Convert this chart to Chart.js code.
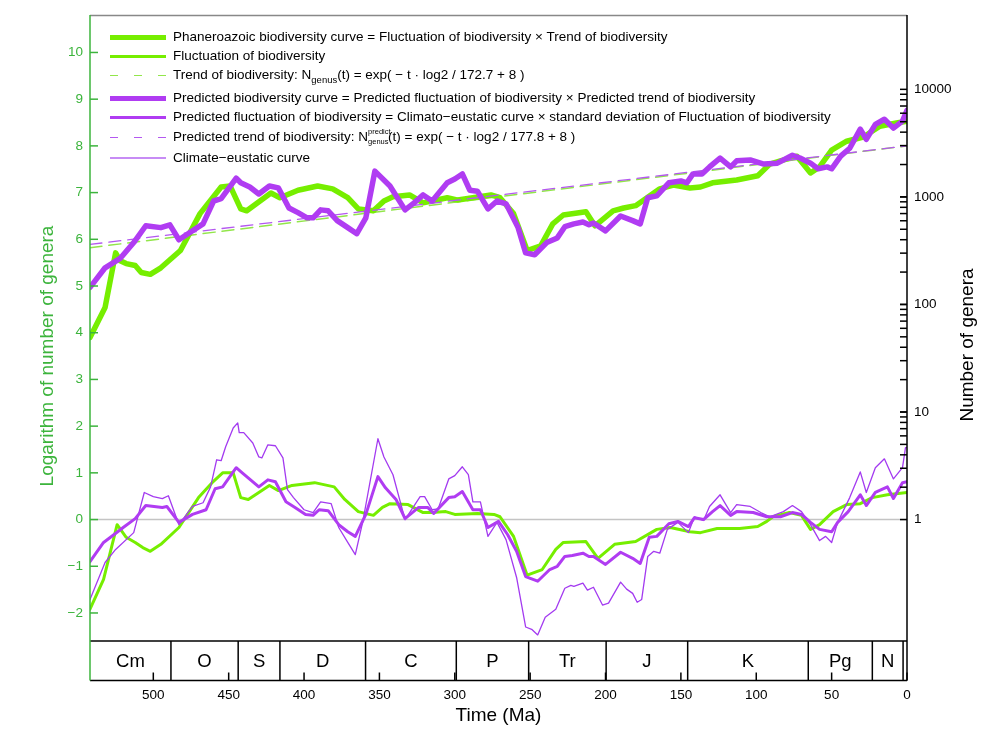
<!DOCTYPE html>
<html>
<head>
<meta charset="utf-8">
<script src="https://cdn.jsdelivr.net/npm/chart.js@4.4.1/dist/chart.umd.min.js"></script>
<style>
  body { margin: 0; background: #fff; }
  #wrap { position: relative; width: 997px; height: 749px; }
  #legend { position: absolute; left: 110px; top: 27px; font: 13.5px "Liberation Sans", Arial, sans-serif; color: #000; }
  #legend .row { line-height: 19px; white-space: nowrap; }
  #legend .row.sub { margin-bottom: 4px; }
  #legend .row.stack { margin-top: 1px; margin-bottom: 2px; }
  #legend .sample { display: inline-block; width: 56px; margin-right: 7px; vertical-align: middle; }
  #legend sub { font-size: 9.5px; vertical-align: -4px; line-height: 0; }
  #legend .ss { position: relative; display: inline-block; width: 20px; height: 1px; }
  #legend .ss i { position: absolute; left: 0; font-style: normal; font-size: 7.5px; line-height: 1; }
  #legend .ss .up { bottom: 6px; }
  #legend .ss .dn { top: -2px; }
</style>
</head>
<body>
<div id="wrap">
  <canvas id="chart"></canvas>
  <div id="legend"></div>
</div>
<script>
// ages in Ma, values in ln(number of genera)
const phanAge = [542, 532, 525, 522, 518, 512, 508, 502, 495, 482, 469, 455, 449, 442, 438, 422, 416, 404, 391, 381, 371, 364, 354, 347, 341, 330, 321, 305, 298, 276, 270, 261, 252, 243, 235, 228, 213, 207, 195, 188, 180, 164, 155, 144, 137, 129, 113, 99, 91, 84, 73, 64, 58, 50, 40, 29, 18, 7, 0]
const phanVal = [3.90, 4.54, 5.71, 5.54, 5.48, 5.44, 5.29, 5.25, 5.39, 5.76, 6.55, 7.12, 7.14, 6.65, 6.61, 6.99, 6.89, 7.05, 7.14, 7.08, 6.89, 6.65, 6.61, 6.82, 6.91, 6.95, 6.78, 6.89, 6.84, 6.95, 6.89, 6.55, 5.76, 5.86, 6.33, 6.52, 6.59, 6.29, 6.61, 6.67, 6.72, 7.08, 7.16, 7.10, 7.12, 7.21, 7.27, 7.36, 7.61, 7.68, 7.78, 7.42, 7.55, 7.91, 8.10, 8.19, 8.42, 8.49, 8.53]

const fluctAge = [542, 533, 524, 518, 512, 507, 502, 495, 483, 470, 461, 454, 447, 442, 437, 423, 417, 408, 393, 380, 373, 364, 354, 348, 343, 331, 321, 315, 306, 300, 285, 274, 270, 261, 252, 242, 233, 228, 213, 205, 194, 180, 166, 157, 144, 137, 126, 111, 99, 93, 89, 78, 70, 64, 58, 49, 40, 31, 23, 13, 0]
const fluctVal = [-1.92, -1.28, -0.11, -0.38, -0.49, -0.60, -0.68, -0.53, -0.17, 0.47, 0.79, 1.00, 1.00, 0.47, 0.43, 0.73, 0.62, 0.73, 0.79, 0.70, 0.43, 0.17, 0.09, 0.26, 0.34, 0.32, 0.15, 0.15, 0.17, 0.11, 0.13, 0.11, 0.06, -0.36, -1.19, -1.07, -0.64, -0.49, -0.47, -0.83, -0.53, -0.47, -0.21, -0.17, -0.26, -0.28, -0.19, -0.19, -0.15, -0.04, 0.06, 0.15, 0.09, -0.21, -0.11, 0.17, 0.32, 0.34, 0.47, 0.53, 0.58]

const trendAge = [542, 0]
const trendVal = [5.82, 8.0]

const predAge = [542, 532, 522, 513, 505, 495, 489, 483, 477, 467, 460, 455, 445, 442, 436, 430, 423, 417, 410, 404, 398, 394, 389, 384, 378, 371, 365, 359, 353, 343, 333, 327, 321, 315, 305, 300, 295, 290, 285, 278, 272, 266, 258, 253, 247, 239, 232, 227, 221, 215, 211, 208, 200, 190, 182, 177, 172, 166, 158, 150, 146, 142, 136, 131, 124, 117, 113, 104, 95, 86, 76, 71, 64, 59, 53, 50, 44, 38, 31, 27, 21, 15, 9, 3, 0]
const predVal = [4.97, 5.39, 5.59, 5.93, 6.29, 6.25, 6.31, 5.99, 6.12, 6.33, 6.82, 6.87, 7.31, 7.21, 7.12, 6.97, 7.14, 7.10, 6.67, 6.57, 6.46, 6.46, 6.63, 6.61, 6.40, 6.25, 6.12, 6.46, 7.46, 7.14, 6.63, 6.78, 6.95, 6.82, 7.21, 7.29, 7.40, 7.05, 7.03, 6.65, 6.82, 6.76, 6.25, 5.71, 5.67, 5.93, 6.03, 6.27, 6.33, 6.37, 6.31, 6.35, 6.18, 6.50, 6.40, 6.33, 6.89, 6.93, 7.21, 7.25, 7.21, 7.40, 7.40, 7.55, 7.74, 7.55, 7.68, 7.70, 7.61, 7.63, 7.80, 7.74, 7.63, 7.51, 7.55, 7.51, 7.78, 7.95, 8.36, 8.14, 8.46, 8.57, 8.38, 8.53, 8.76]

const predFluctAge = [542, 533, 526, 520, 512, 505, 494, 491, 483, 474, 465, 459, 454, 445, 441, 430, 424, 419, 412, 406, 399, 394, 390, 384, 377, 371, 366, 359, 351, 346, 339, 333, 324, 318, 314, 304, 300, 295, 288, 283, 278, 271, 265, 259, 253, 245, 237, 232, 227, 222, 215, 211, 208, 200, 190, 182, 177, 171, 166, 158, 152, 145, 141, 135, 129, 124, 117, 113, 102, 93, 84, 76, 70, 64, 58, 50, 46, 39, 31, 27, 21, 13, 9, 3, 0]
const predFluctVal = [-0.90, -0.49, -0.32, -0.17, 0.02, 0.30, 0.26, 0.28, -0.06, 0.11, 0.21, 0.66, 0.70, 1.11, 1.00, 0.70, 0.85, 0.81, 0.38, 0.26, 0.11, 0.09, 0.21, 0.19, -0.11, -0.26, -0.36, 0.11, 0.92, 0.68, 0.43, 0.02, 0.26, 0.26, 0.13, 0.47, 0.49, 0.60, 0.21, 0.21, -0.17, -0.04, -0.32, -0.68, -1.22, -1.32, -1.07, -1.00, -0.79, -0.77, -0.72, -0.79, -0.79, -0.96, -0.70, -0.83, -0.94, -0.38, -0.36, -0.09, -0.04, -0.15, 0.04, 0.00, 0.17, 0.30, 0.09, 0.17, 0.15, 0.06, 0.06, 0.15, 0.11, -0.06, -0.21, -0.26, -0.06, 0.17, 0.53, 0.30, 0.58, 0.70, 0.45, 0.79, 0.81]

const predTrendAge = [542, 0]
const predTrendVal = [5.89, 8.0]

const climAge = [542, 532, 525, 513, 506, 500, 494, 490, 483, 474, 467, 462, 458, 455, 452, 447, 444, 443, 440, 434, 430, 428, 424, 419, 414, 411, 407, 400, 394, 389, 382, 377, 371, 366, 361, 351, 347, 341, 333, 323, 320, 315, 311, 304, 300, 295, 291, 288, 283, 278, 272, 266, 259, 253, 249, 245, 240, 233, 227, 223, 221, 215, 212, 208, 202, 198, 190, 186, 182, 179, 176, 172, 168, 164, 159, 152, 145, 141, 135, 131, 124, 117, 113, 104, 97, 91, 82, 76, 70, 64, 58, 54, 50, 46, 38, 31, 27, 21, 15, 9, 3, 1, 0]
const climVal = [-1.71, -0.92, -0.64, -0.28, 0.58, 0.49, 0.45, 0.51, -0.11, 0.28, 0.36, 0.70, 1.28, 1.26, 1.56, 1.96, 2.07, 1.86, 1.86, 1.64, 1.34, 1.32, 1.60, 1.58, 1.32, 0.64, 0.47, 0.21, 0.15, 0.38, 0.34, -0.17, -0.49, -0.75, -0.04, 1.73, 1.34, 0.96, 0.00, 0.49, 0.49, 0.21, 0.23, 0.87, 0.94, 1.13, 0.96, 0.38, 0.38, -0.36, -0.06, -0.43, -1.24, -2.30, -2.35, -2.47, -2.09, -1.92, -1.47, -1.41, -1.43, -1.36, -1.51, -1.45, -1.83, -1.79, -1.34, -1.49, -1.58, -1.77, -1.71, -0.79, -0.68, -0.72, -0.21, -0.06, -0.28, 0.06, -0.02, 0.28, 0.53, 0.15, 0.32, 0.28, 0.15, 0.06, 0.17, 0.30, 0.17, -0.11, -0.45, -0.36, -0.49, -0.06, 0.47, 1.02, 0.58, 1.11, 1.30, 0.87, 1.11, 1.54, 1.54]

// geologic periods (boundaries in Ma, oldest first)
const periodNames = ['Cm', 'O', 'S', 'D', 'C', 'P', 'Tr', 'J', 'K', 'Pg', 'N', '']
const periodBounds = [542, 488.3, 443.7, 416, 359.2, 299, 251, 199.6, 145.5, 65.5, 23, 2.6, 0]

const xTicks = [500, 450, 400, 350, 300, 250, 200, 150, 100, 50, 0]
const yTicks = [-2, -1, 0, 1, 2, 3, 4, 5, 6, 7, 8, 9, 10]
const genusTicks = [1, 10, 100, 1000, 10000]

const legendLabels = [
  'Phaneroazoic biodiversity curve = Fluctuation of biodiversity &times; Trend of biodiversity',
  'Fluctuation of biodiversity',
  'Trend of biodiversity: N<sub>genus</sub>(t) = exp( &minus; t &middot; log2 / 172.7 + 8 )',
  'Predicted biodiversity curve = Predicted fluctuation of biodiversity &times; Predicted trend of biodiversity',
  'Predicted fluctuation of biodiversity = Climato&minus;eustatic curve &times; standard deviation of Fluctuation of biodiversity',
  'Predicted trend of biodiversity: N<span class="ss"><i class="up">predict</i><i class="dn">genus</i></span>(t) = exp( &minus; t &middot; log2 / 177.8 + 8 )',
  'Climate&minus;eustatic curve'
]

const yMin = -2.6, yMax = 10.8
const FONT = '"Liberation Sans", Arial, sans-serif'
const axisGreen = '#3cb43c'
const green = '#76ee00'
const purple = '#b03cf2'

const pts = (ages, vals) => ages.map((a, i) => ({ x: a, y: vals[i] }))

function seg(ctx, x1, y1, x2, y2) {
  ctx.beginPath()
  ctx.moveTo(x1, y1)
  ctx.lineTo(x2, y2)
  ctx.stroke()
}

const frame = {
  id: 'frame',
  beforeDatasetsDraw(chart) {
    const { ctx, chartArea: a, scales } = chart
    const y0 = scales.y.getPixelForValue(0)
    ctx.save()
    ctx.strokeStyle = '#c4c4c4'
    ctx.lineWidth = 1.5
    seg(ctx, a.left, y0, a.right, y0)
    ctx.restore()
  },
  afterDraw(chart) {
    const { ctx, chartArea: a, scales: { x, y, y2 } } = chart
    const bandBottom = a.bottom + 39.5
    ctx.save()
    ctx.lineWidth = 1.5
    ctx.strokeStyle = '#888'
    seg(ctx, a.left, a.top + 0.5, a.right, a.top + 0.5)

    // geologic time band
    ctx.strokeStyle = '#000'
    seg(ctx, a.left, a.bottom, a.right, a.bottom)
    seg(ctx, a.left, bandBottom, a.right, bandBottom)
    periodBounds.slice(1, -1).forEach(t => {
      const px = x.getPixelForValue(t)
      seg(ctx, px, a.bottom, px, bandBottom)
    })
    ctx.fillStyle = '#000'
    ctx.font = '18.5px ' + FONT
    ctx.textAlign = 'center'
    ctx.textBaseline = 'middle'
    periodNames.forEach((name, i) => {
      const mid = (periodBounds[i] + periodBounds[i + 1]) / 2
      ctx.fillText(name, x.getPixelForValue(mid), (a.bottom + bandBottom) / 2 + 1)
    })
    xTicks.forEach(t => {
      const px = x.getPixelForValue(t)
      seg(ctx, px, bandBottom, px, bandBottom - 8)
    })

    // right axis (number of genera, log), minor ticks between 1 and 10000 only
    seg(ctx, a.right, a.top, a.right, bandBottom)
    for (let e = 0; e <= 3; e++) {
      for (let k = 1; k <= 10; k++) {
        const py = y2.getPixelForValue(k * Math.pow(10, e))
        seg(ctx, a.right - 7, py, a.right, py)
      }
    }

    // left axis
    ctx.strokeStyle = axisGreen
    seg(ctx, a.left, a.top, a.left, bandBottom)
    yTicks.forEach(v => {
      const py = y.getPixelForValue(v)
      seg(ctx, a.left, py, a.left + 8, py)
    })

    // axis titles
    ctx.font = '19px ' + FONT
    ctx.fillStyle = '#000'
    ctx.fillText('Time (Ma)', (a.left + a.right) / 2, 716)
    ctx.save()
    ctx.translate(48, 356)
    ctx.rotate(-Math.PI / 2)
    ctx.fillStyle = axisGreen
    ctx.fillText('Logarithm of number of genera', 0, 0)
    ctx.restore()
    ctx.save()
    ctx.translate(968, 345)
    ctx.rotate(-Math.PI / 2)
    ctx.fillText('Number of genera', 0, 0)
    ctx.restore()
    ctx.restore()
  }
}

const data = {
  datasets: [
    { label: 'Phaneroazoic biodiversity curve', data: pts(phanAge, phanVal), borderColor: green, borderWidth: 5.5, order: 2, legendWidth: 4.5, legendColor: green },
    { label: 'Fluctuation of biodiversity', data: pts(fluctAge, fluctVal), borderColor: green, borderWidth: 3, order: 2, legendWidth: 2.5, legendColor: green },
    { label: 'Trend of biodiversity', data: pts(trendAge, trendVal), borderColor: '#92e64a', borderWidth: 1.5, borderDash: [12, 7], order: 3, legendWidth: 1.5, legendColor: '#92e64a' },
    { label: 'Predicted biodiversity curve', data: pts(predAge, predVal), borderColor: purple, borderWidth: 5.5, order: 0, legendWidth: 4.5, legendColor: purple },
    { label: 'Predicted fluctuation of biodiversity', data: pts(predFluctAge, predFluctVal), borderColor: purple, borderWidth: 3, order: 0, legendWidth: 2.5, legendColor: purple },
    { label: 'Predicted trend of biodiversity', data: pts(predTrendAge, predTrendVal), borderColor: '#b458f0', borderWidth: 1.3, borderDash: [12, 7], order: 1, legendWidth: 1.5, legendColor: '#b458f0' },
    { label: 'Climate-eustatic curve', data: pts(climAge, climVal), borderColor: '#a33af0', borderWidth: 1.3, order: 1, legendWidth: 2, legendColor: '#c78cf5' }
  ]
}

const tickFont = { family: FONT, size: 13.5 }

const config = {
  type: 'line',
  data: data,
  options: {
    responsive: true,
    maintainAspectRatio: false,
    animation: false,
    layout: { padding: { top: 14, left: 0, right: 0, bottom: 0 } },
    plugins: { legend: { display: false }, tooltip: { enabled: false } },
    elements: {
      point: { radius: 0 },
      line: { tension: 0, borderCapStyle: 'round', borderJoinStyle: 'round', fill: false }
    },
    scales: {
      x: {
        type: 'linear', reverse: true, min: 0, max: 542,
        afterBuildTicks: s => { s.ticks = xTicks.map(v => ({ value: v })) },
        afterFit: s => { s.height = 108 },
        grid: { display: false, drawTicks: false },
        border: { display: false },
        ticks: { padding: 46, color: '#000', font: tickFont, maxRotation: 0, autoSkip: false }
      },
      y: {
        position: 'left', min: yMin, max: yMax,
        afterBuildTicks: s => { s.ticks = yTicks.map(v => ({ value: v })) },
        afterFit: s => { s.width = 90 },
        grid: { display: false, drawTicks: false },
        border: { display: false },
        ticks: { padding: 7, color: axisGreen, font: tickFont, callback: v => v < 0 ? '\u2212' + Math.abs(v) : String(v) }
      },
      y2: {
        type: 'logarithmic', position: 'right', min: Math.exp(yMin), max: Math.exp(yMax),
        afterBuildTicks: s => { s.ticks = genusTicks.map(v => ({ value: v })) },
        afterFit: s => { s.width = 90 },
        grid: { display: false, drawTicks: false },
        border: { display: false },
        ticks: { padding: 7, color: '#000', font: tickFont, callback: v => String(v) }
      }
    }
  },
  plugins: [frame]
}

const chart = new Chart(document.getElementById('chart'), config)

// html legend (needs sub/superscripts)
const legend = document.getElementById('legend')
chart.data.datasets.forEach((ds, i) => {
  const row = document.createElement('div')
  row.className = 'row' + (i === 2 ? ' sub' : '') + (i === 5 ? ' stack' : '')
  const s = document.createElement('span')
  s.className = 'sample'
  s.style.height = ds.legendWidth + 'px'
  s.style.background = ds.borderDash
    ? `repeating-linear-gradient(to right, ${ds.legendColor} 0 8px, transparent 8px 24px)`
    : ds.legendColor
  row.appendChild(s)
  const t = document.createElement('span')
  t.innerHTML = legendLabels[i]
  row.appendChild(t)
  legend.appendChild(row)
})
</script>
</body>
</html>
